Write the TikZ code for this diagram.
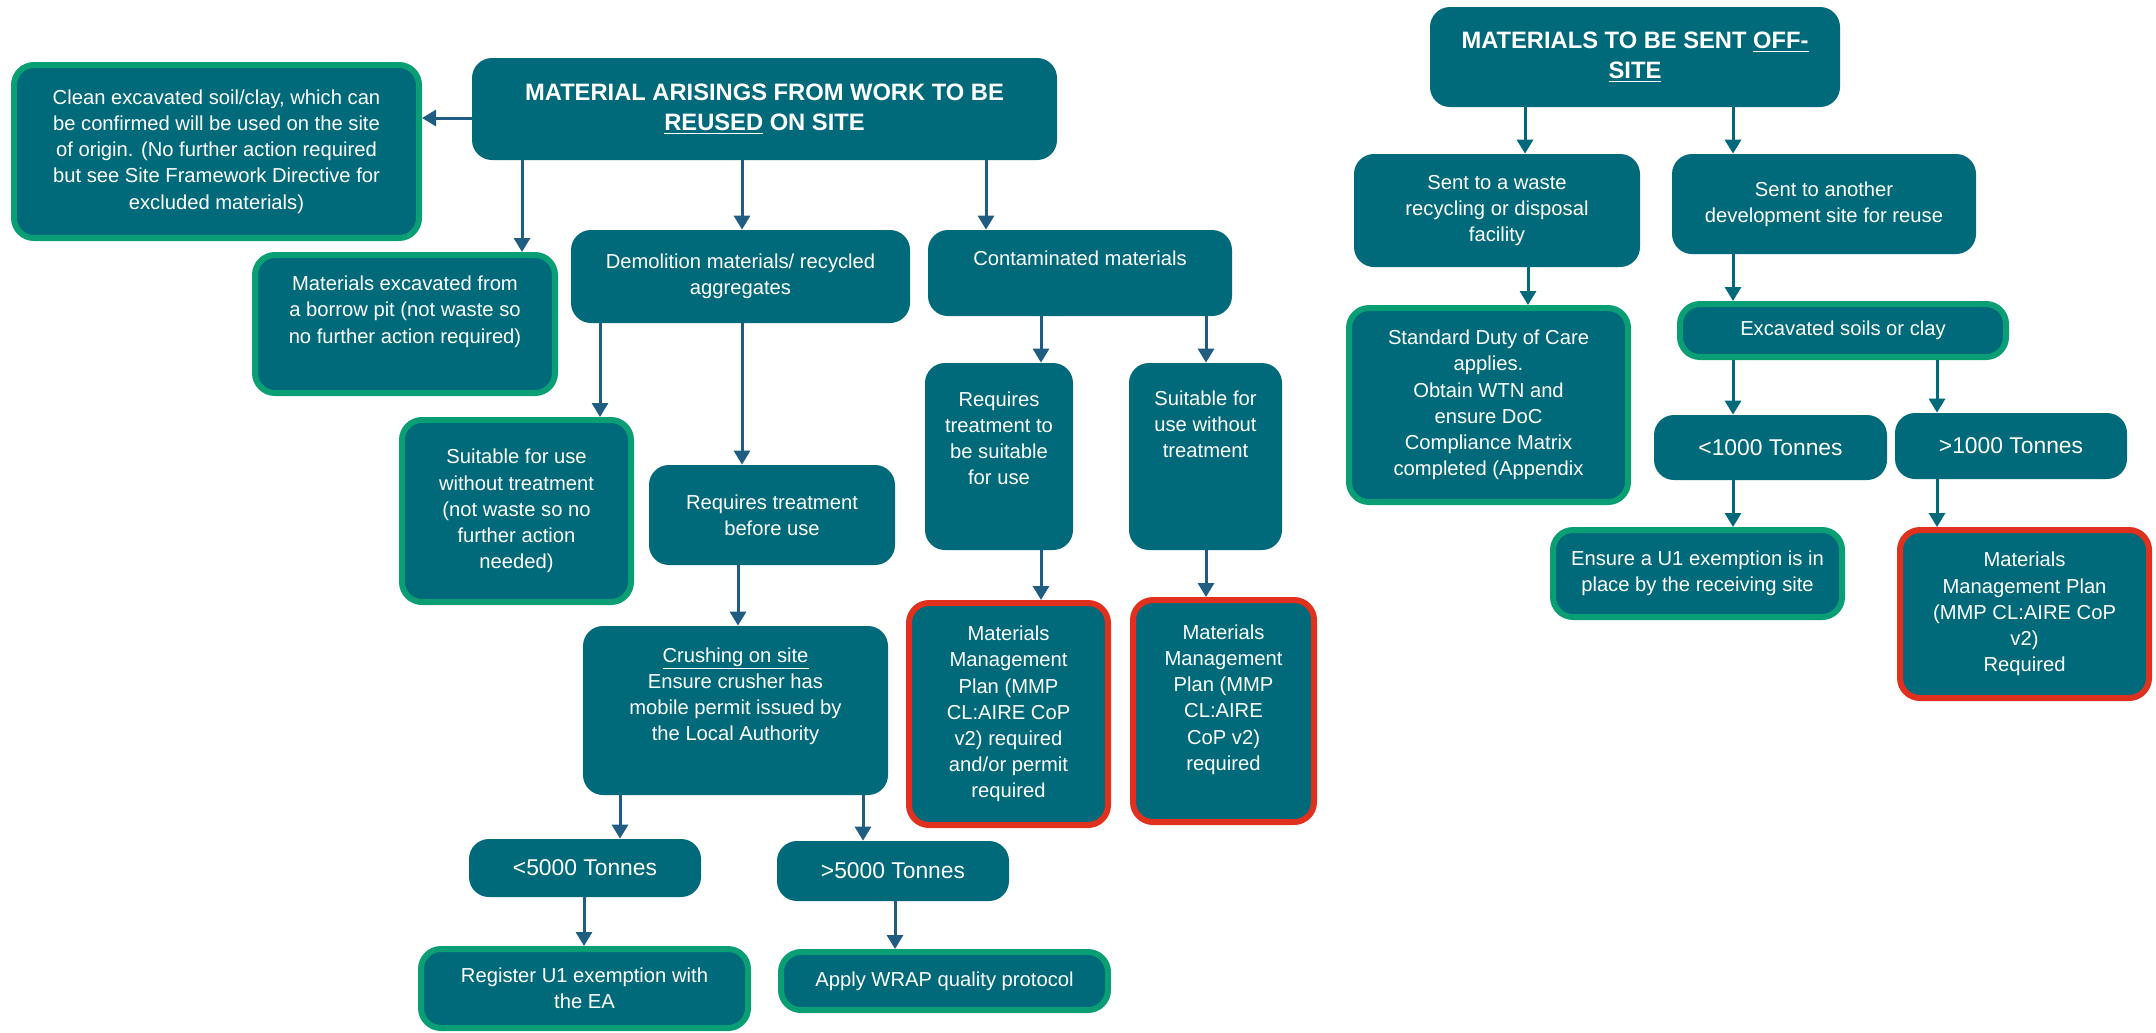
\documentclass[tikz,border=0pt]{standalone}
\usepackage{fontspec}
\setmainfont{Liberation Sans}
\usetikzlibrary{arrows.meta}
\definecolor{cfondo}{HTML}{00697A}
\definecolor{cverde}{HTML}{0A9E75}
\definecolor{crojo}{HTML}{E0301E}
\definecolor{cflecha}{HTML}{1F5E82}
\newcommand{\pxu}{0.02cm}

\begin{document}
\begin{tikzpicture}[x=0.02cm, y=-0.02cm,
  caja/.style 2 args={rounded corners=0.4cm, fill=cfondo, text=white, align=center, inner sep=0pt,
    minimum width=#1*\pxu, minimum height=#2*\pxu, font=\fontsize{11.5}{14.9}\selectfont},
  bverde/.style={draw=cverde, line width=0.12cm},
  brojo/.style={draw=crojo, line width=0.12cm},
  titulo/.style={font=\bfseries\fontsize{13.5}{17}\selectfont},
  tonel/.style={font=\fontsize{13}{16}\selectfont},
  flecha/.style={draw=cflecha, line width=0.06cm, -{Triangle[length=0.28cm, width=0.32cm]}},
  flechaR/.style={flecha, draw=cfondo}]
  \useasboundingbox (0,0) rectangle (2156,1032);
  % reutilizar en obra
  \node[caja={585}{102}, titulo] (t1) at (764.5,109)
    {MATERIAL ARISINGS FROM WORK TO BE\\\underline{REUSED} ON SITE};
  \node[caja={405}{173}, bverde] (clean) at (216.5,151.5)
    {Clean excavated soil/clay, which can\\be confirmed will be used on the site\\of origin. (No further action required\\but see Site Framework Directive for\\excluded materials)};
  \node[caja={300}{138}, bverde, text depth=0.58cm] (borrow) at (405,324)
    {Materials excavated from\\a borrow pit (not waste so\\no further action required)};
  \node[caja={339}{93}] (demol) at (740.5,276.5) {Demolition materials/ recycled\\aggregates};
  \node[caja={304}{86}, text depth=0.58cm] (contam) at (1080,273) {Contaminated materials};
  \draw[flecha] (t1.west |- 0,118) -- (clean.east |- 0,118);
  \draw[flecha] (522,0 |- t1.south) -- (522,0 |- borrow.north);
  \draw[flecha] (742,0 |- t1.south) -- (742,0 |- demol.north);
  \draw[flecha] (986,0 |- t1.south) -- (986,0 |- contam.north);
  % demolicion
  \node[caja={229}{182}, bverde] (suit1) at (516.5,511)
    {Suitable for use\\without treatment\\(not waste so no\\further action\\needed)};
  \node[caja={246}{100}] (reqtr) at (772,515) {Requires treatment\\before use};
  \node[caja={305}{169}, text depth=0.66cm] (crush) at (735.5,710.5)
    {\underline{Crushing on site}\\Ensure crusher has\\mobile permit issued by\\the Local Authority};
  \node[caja={232}{58}, tonel] (lt5) at (585,868) {<5000 Tonnes};
  \node[caja={232}{60}, tonel] (gt5) at (893,871) {>5000 Tonnes};
  \node[caja={327}{79}, bverde] (reg) at (584.5,988.5) {Register U1 exemption with\\the EA};
  \node[caja={327}{58}, bverde] (wrap) at (944.5,981) {Apply WRAP quality protocol};
  \draw[flecha] (600,0 |- demol.south) -- (600,0 |- suit1.north);
  \draw[flecha] (742,0 |- demol.south) -- (742,0 |- reqtr.north);
  \draw[flecha] (738,0 |- reqtr.south) -- (738,0 |- crush.north);
  \draw[flecha] (620,0 |- crush.south) -- (620,0 |- lt5.north);
  \draw[flecha] (863,0 |- crush.south) -- (863,0 |- gt5.north);
  \draw[flecha] (584,0 |- lt5.south) -- (584,0 |- reg.north);
  \draw[flecha] (895,0 |- gt5.south) -- (895,0 |- wrap.north);
  % contaminados
  \node[caja={148}{187}, text depth=0.74cm] (reqsu) at (999,456.5)
    {Requires\\treatment to\\be suitable\\for use};
  \node[caja={153}{187}, text depth=1.3cm] (suit2) at (1205.5,456.5)
    {Suitable for\\use without\\treatment};
  \node[caja={199}{222}, brojo] (mmp1) at (1008.5,714)
    {Materials\\Management\\Plan (MMP\\CL:AIRE CoP\\v2) required\\and/or permit\\required};
  \node[caja={181}{222}, brojo, text depth=0.54cm] (mmp2) at (1223.5,711)
    {Materials\\Management\\Plan (MMP\\CL:AIRE\\CoP v2)\\required};
  \draw[flecha] (1041,0 |- contam.south) -- (1041,0 |- reqsu.north);
  \draw[flecha] (1206,0 |- contam.south) -- (1206,0 |- suit2.north);
  \draw[flecha] (1041,0 |- reqsu.south) -- (1041,0 |- mmp1.north);
  \draw[flecha] (1206,0 |- suit2.south) -- (1206,0 |- mmp2.north);
  % enviar fuera de obra
  \node[caja={410}{100}, titulo] (t2) at (1635,57)
    {MATERIALS TO BE SENT \underline{OFF-}\\\underline{SITE}};
  \node[caja={286}{113}] (waste) at (1497,210.5) {Sent to a waste\\recycling or disposal\\facility};
  \node[caja={304}{100}] (dev) at (1824,204) {Sent to another\\development site for reuse};
  \node[caja={279}{194}, bverde] (duty) at (1488.5,405)
    {Standard Duty of Care\\applies.\\Obtain WTN and\\ensure DoC\\Compliance Matrix\\completed (Appendix};
  \node[caja={326}{53}, bverde] (excav) at (1843,330.5) {Excavated soils or clay};
  \node[caja={233}{65}, tonel] (lt1) at (1770.5,447.5) {<1000 Tonnes};
  \node[caja={232}{66}, tonel] (gt1) at (2011,446) {>1000 Tonnes};
  \node[caja={289}{87}, bverde] (u1) at (1697.5,573.5) {Ensure a U1 exemption is in\\place by the receiving site};
  \node[caja={249}{168}, brojo] (mmp3) at (2024.5,614)
    {Materials\\Management Plan\\(MMP CL:AIRE CoP\\v2)\\Required};
  \draw[flechaR] (1525,0 |- t2.south) -- (1525,0 |- waste.north);
  \draw[flechaR] (1733,0 |- t2.south) -- (1733,0 |- dev.north);
  \draw[flechaR] (1528,0 |- waste.south) -- (1528,0 |- duty.north);
  \draw[flechaR] (1733,0 |- dev.south) -- (1733,0 |- excav.north);
  \draw[flechaR] (1733,0 |- excav.south) -- (1733,0 |- lt1.north);
  \draw[flechaR] (1937,0 |- excav.south) -- (1937,0 |- gt1.north);
  \draw[flechaR] (1733,0 |- lt1.south) -- (1733,0 |- u1.north);
  \draw[flechaR] (1937,0 |- gt1.south) -- (1937,0 |- mmp3.north);
\end{tikzpicture}
\end{document}
